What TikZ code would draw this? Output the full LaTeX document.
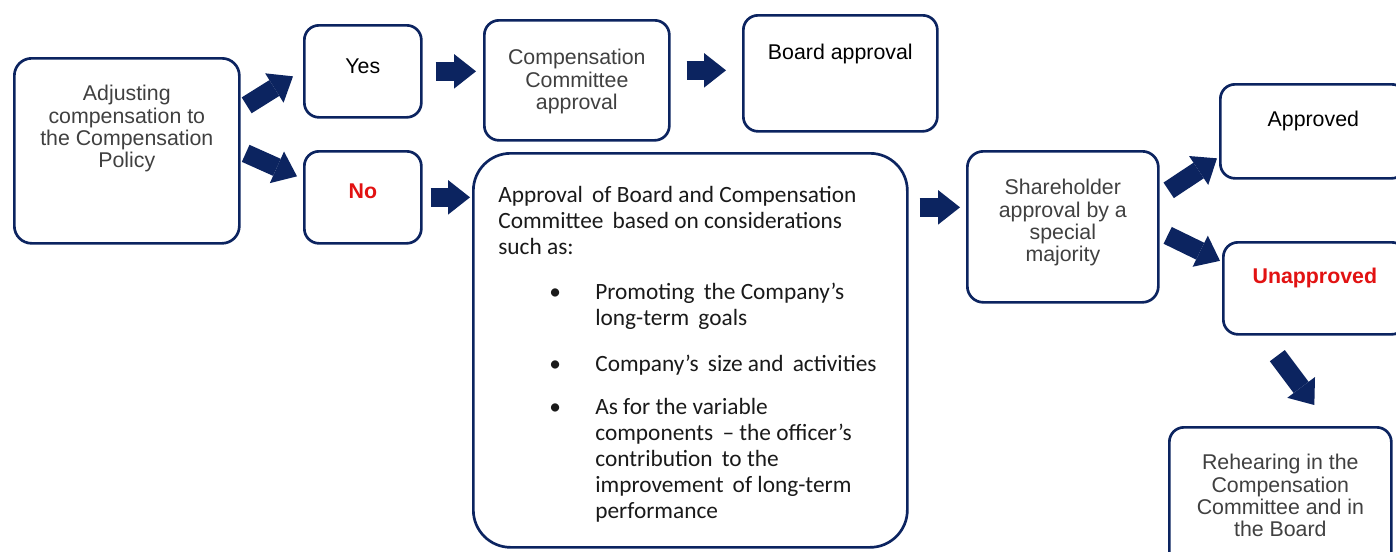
\documentclass[tikz,border=0pt]{standalone}
\usepackage{fontspec}
\setmainfont{Liberation Sans}
\newfontfamily\calib{Carlito}
\usetikzlibrary{arrows.meta,calc}
\definecolor{navy}{RGB}{12,36,96}
\definecolor{txtgray}{RGB}{64,64,64}
\definecolor{txtred}{RGB}{226,18,18}
\definecolor{txtdark}{RGB}{26,26,26}
\newdimen\px \px=0.75pt
\newcommand\bx[4]{\parbox[t][#1\px][t]{#2\px}{\centering\vspace*{#3\px}#4\par}}
\newcommand\bul{\makebox[97\px][l]{\hspace{51\px}\textbullet}}
\newcommand\ind{\hspace*{97\px}}
\newcommand\dsp{\ \,}
\begin{document}
\begin{tikzpicture}[x=0.75pt,y=-0.75pt,
  box/.style={draw=navy, line width=2pt, rounded corners=11pt, inner sep=0pt,
    anchor=north west, fill=white, font=\fontsize{16}{16.75}\selectfont, text=txtgray},
  redbold/.style={text=txtred, font=\fontsize{16}{16.75}\selectfont\bfseries},
  barrow/.style={draw=navy, line width=14pt,
    -{Triangle[length=16.5pt,width=26pt,line width=0pt]}}]
\useasboundingbox (0,0) rectangle (1396,551);
\fill[white] (0,0) rectangle (1396,551);

\node[box, rounded corners=13pt] (adj) at (13,57)
  {\bx{185}{225}{27}{Adjusting\\compensation to\\the Compensation\\Policy}};
\node[box, text=black] (yes) at (303,24) {\bx{92}{117}{33}{Yes}};
\node[box, redbold] (no) at (303,150) {\bx{92}{117}{32}{No}};
\node[box] (cc) at (483,19) {\bx{120}{185}{29}{Compensation\\Committee\\approval}};
\node[box, text=black] (board) at (742,14) {\bx{116}{194}{29}{Board approval}};
\node[box, rounded corners=28pt, text=txtdark] (big) at (472,152)
  {\parbox[t][394\px][t]{434\px}{\calib\fontsize{17.5}{19.5}\selectfont\raggedright\leftskip=25\px
   \vspace*{33\px}%
   Approval\dsp of Board and Compensation\\
   Committee\dsp based on considerations\\
   such as:\\[19\px]
   \bul Promoting\dsp the Company’s\\
   \ind long-term\dsp goals\\[20\px]
   \bul Company’s\dsp size and\dsp activities\\[17\px]
   \bul As for the variable\\
   \ind components\dsp – the officer’s\\
   \ind contribution\dsp to the\\
   \ind improvement\dsp of long-term\\
   \ind performance\par}};
\node[box, rounded corners=12pt] (share) at (966,150)
  {\bx{151}{191}{28}{Shareholder\\approval by a\\special\\majority}};
\node[box, text=black] (appr) at (1219,83) {\bx{94}{186}{27}{Approved}};
\node[box, redbold] (unap) at (1222,241) {\bx{92}{183}{26}{Unapproved}};
\node[box] (reh) at (1168,426)
  {\bx{140}{222}{27}{Rehearing in the\\Compensation\\Committee and in\\the Board}};

\draw[barrow] ($(adj.east)+(6,-45.5)$) -- ($(yes.west)+(-10,5)$);
\draw[barrow] ($(adj.east)+(5,2.5)$) -- ($(no.west)+(-6,-21)$);
\draw[barrow] ($(yes.east)+(13,0)$) -- ($(cc.west|-yes.east)+(-7,0)$);
\draw[barrow] ($(cc.east)+(16,-10)$) -- ($(board.west|-cc.east)+(-16,-10)$);
\draw[barrow] ($(no.east)+(8,0)$) -- ($(big.west|-no.east)+(-2,0)$);
\draw[barrow] ($(big.east|-share.west)+(11,-19.5)$) -- ($(share.west)+(-6,-19.5)$);
\draw[barrow] ($(share.east)+(9,-36.5)$) -- ($(appr.west)+(-2,27)$);
\draw[barrow] ($(share.east)+(8,8.5)$) -- ($(unap.west)+(-2,-27.5)$);
\draw[barrow] ($(unap.south)+(-37.5,20)$) -- ($(reh.north)+(34,-21)$);
\end{tikzpicture}
\end{document}
